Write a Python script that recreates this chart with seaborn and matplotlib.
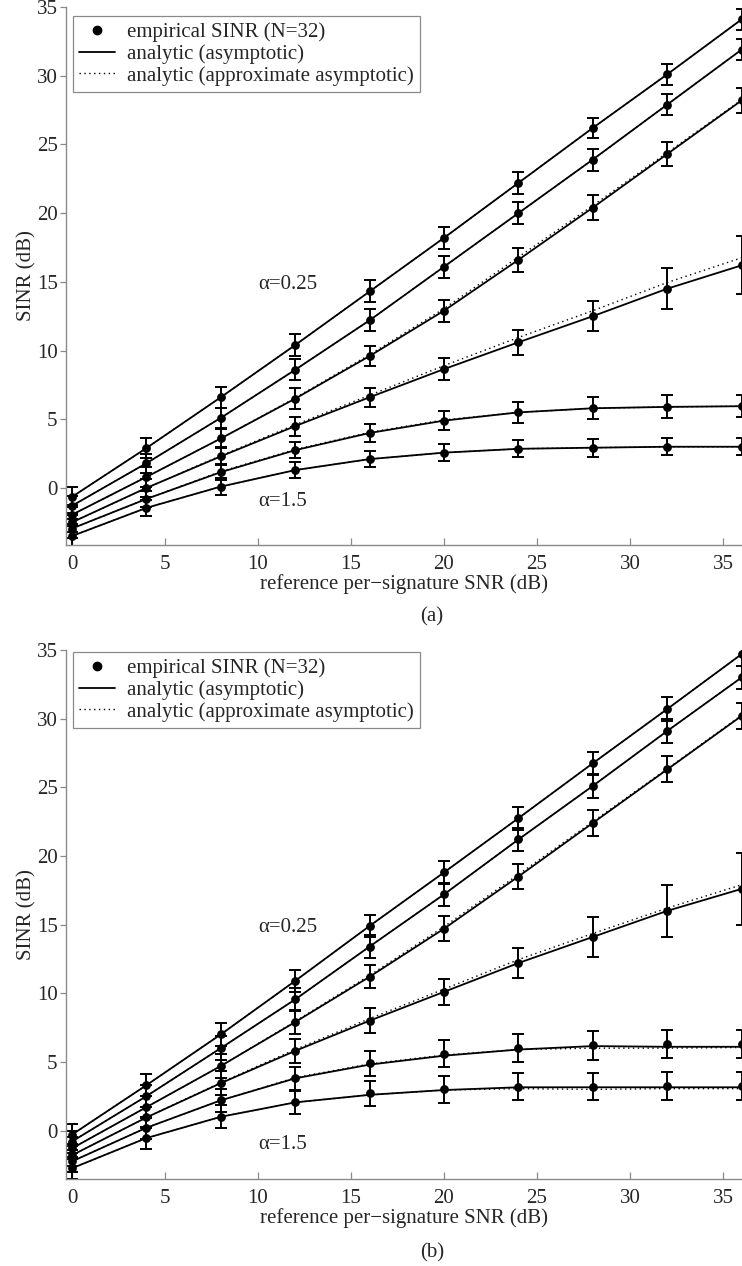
import numpy as np
import pandas as pd
import matplotlib
matplotlib.use("Agg")
import matplotlib.pyplot as plt
import seaborn as sns
from matplotlib.lines import Line2D

sns.set_theme(style="white")
plt.rcParams['font.family'] = ['Liberation Serif', 'DejaVu Serif']

# ---------------- data ----------------
snr = [0, 4, 8, 12, 16, 20, 24, 28, 32, 36]
alphas = [0.25, 0.5, 0.75, 1.0, 1.25, 1.5]

# panel (a): empirical SINR (dB)
emp_a_025 = [-0.65, 2.9, 6.6, 10.4, 14.3, 18.2, 22.2, 26.2, 30.1, 34.1]
emp_a_050 = [-1.3, 1.8, 5.1, 8.6, 12.2, 16.1, 20.0, 23.9, 27.9, 31.9]
emp_a_075 = [-1.95, 0.8, 3.6, 6.5, 9.6, 12.9, 16.6, 20.4, 24.3, 28.2]
emp_a_100 = [-2.5, 0.0, 2.3, 4.5, 6.6, 8.65, 10.6, 12.5, 14.5, 16.2]
emp_a_125 = [-2.95, -0.8, 1.15, 2.75, 4.0, 4.9, 5.5, 5.8, 5.9, 5.95]
emp_a_150 = [-3.5, -1.45, 0.1, 1.3, 2.1, 2.57, 2.85, 2.93, 3.0, 3.0]
# error half-widths (dB)
err_a_025 = [0.7, 0.7, 0.75, 0.8, 0.8, 0.8, 0.8, 0.75, 0.75, 0.75]
err_a_050 = [0.7, 0.7, 0.75, 0.75, 0.8, 0.8, 0.8, 0.8, 0.75, 0.75]
err_a_075 = [0.7, 0.7, 0.7, 0.75, 0.75, 0.8, 0.85, 0.9, 0.9, 0.9]
err_a_100 = [0.7, 0.65, 0.65, 0.7, 0.7, 0.8, 0.9, 1.1, 1.5, 2.1]
err_a_125 = [0.7, 0.6, 0.6, 0.6, 0.65, 0.7, 0.78, 0.8, 0.84, 0.8]
err_a_150 = [0.7, 0.6, 0.6, 0.6, 0.6, 0.62, 0.63, 0.65, 0.62, 0.63]
# analytic (asymptotic)
asy_a_025 = [-0.65, 2.9, 6.6, 10.4, 14.3, 18.2, 22.2, 26.2, 30.1, 34.1]
asy_a_050 = [-1.3, 1.8, 5.1, 8.6, 12.2, 16.1, 20.0, 23.9, 27.9, 31.9]
asy_a_075 = [-1.95, 0.8, 3.6, 6.5, 9.6, 12.9, 16.6, 20.4, 24.3, 28.2]
asy_a_100 = [-2.5, 0.0, 2.3, 4.5, 6.6, 8.65, 10.6, 12.5, 14.5, 16.2]
asy_a_125 = [-2.95, -0.8, 1.15, 2.75, 4.0, 4.9, 5.5, 5.8, 5.9, 5.95]
asy_a_150 = [-3.5, -1.45, 0.1, 1.3, 2.1, 2.57, 2.85, 2.93, 3.0, 3.0]
# analytic (approximate asymptotic)
apx_a_025 = [-0.65, 2.9, 6.6, 10.4, 14.3, 18.2, 22.2, 26.2, 30.1, 34.1]
apx_a_050 = [-1.3, 1.8, 5.1, 8.6, 12.2, 16.1, 20.0, 23.9, 27.9, 31.9]
apx_a_075 = [-1.95, 0.8, 3.6, 6.55, 9.7, 13.05, 16.8, 20.55, 24.4, 28.25]
apx_a_100 = [-2.5, 0.0, 2.35, 4.6, 6.75, 8.9, 10.95, 12.9, 14.95, 16.75]
apx_a_125 = [-2.95, -0.8, 1.2, 2.8, 4.05, 4.95, 5.5, 5.8, 5.9, 5.95]
apx_a_150 = [-3.5, -1.45, 0.1, 1.3, 2.1, 2.57, 2.85, 2.93, 3.0, 3.0]

# panel (b): empirical SINR (dB)
emp_b_025 = [-0.3, 3.3, 7.0, 10.9, 14.9, 18.8, 22.75, 26.75, 30.7, 34.7]
emp_b_050 = [-0.8, 2.5, 6.0, 9.55, 13.4, 17.2, 21.2, 25.1, 29.1, 33.0]
emp_b_075 = [-1.3, 1.7, 4.7, 7.9, 11.2, 14.7, 18.5, 22.4, 26.3, 30.2]
emp_b_100 = [-1.8, 0.95, 3.45, 5.8, 8.0, 10.1, 12.2, 14.1, 16.0, 17.6]
emp_b_125 = [-2.25, 0.2, 2.2, 3.8, 4.9, 5.6, 6.0, 6.2, 6.3, 6.3]
emp_b_150 = [-2.75, -0.55, 1.0, 2.05, 2.7, 3.0, 3.2, 3.2, 3.25, 3.25]
err_b_025 = [0.8, 0.8, 0.85, 0.8, 0.8, 0.85, 0.85, 0.85, 0.85, 0.85]
err_b_050 = [0.8, 0.8, 0.85, 0.85, 0.85, 0.85, 0.85, 0.85, 0.85, 0.85]
err_b_075 = [0.8, 0.8, 0.85, 0.85, 0.85, 0.9, 0.9, 0.95, 0.95, 0.95]
err_b_100 = [0.8, 0.8, 0.85, 0.85, 0.9, 0.97, 1.1, 1.45, 1.9, 2.6]
err_b_125 = [0.8, 0.8, 0.85, 0.85, 0.9, 0.97, 1.0, 1.03, 1.05, 1.05]
err_b_150 = [0.8, 0.8, 0.85, 0.85, 0.9, 0.98, 1.0, 1.0, 1.0, 1.0]
asy_b_025 = [-0.3, 3.3, 7.0, 10.9, 14.9, 18.8, 22.75, 26.75, 30.7, 34.7]
asy_b_050 = [-0.8, 2.5, 6.0, 9.55, 13.4, 17.2, 21.2, 25.1, 29.1, 33.0]
asy_b_075 = [-1.3, 1.7, 4.7, 7.9, 11.2, 14.7, 18.5, 22.4, 26.3, 30.2]
asy_b_100 = [-1.8, 0.95, 3.45, 5.8, 8.0, 10.1, 12.2, 14.1, 16.0, 17.6]
asy_b_125 = [-2.25, 0.2, 2.2, 3.8, 4.8, 5.45, 5.9, 6.15, 6.1, 6.1]
asy_b_150 = [-2.75, -0.55, 1.0, 2.05, 2.6, 2.95, 3.15, 3.15, 3.15, 3.15]
apx_b_025 = [-0.3, 3.3, 7.0, 10.9, 14.9, 18.8, 22.75, 26.75, 30.7, 34.7]
apx_b_050 = [-0.8, 2.5, 6.0, 9.55, 13.4, 17.2, 21.2, 25.1, 29.1, 33.0]
apx_b_075 = [-1.3, 1.7, 4.7, 7.95, 11.3, 14.85, 18.65, 22.5, 26.35, 30.25]
apx_b_100 = [-1.8, 0.95, 3.5, 5.9, 8.15, 10.3, 12.45, 14.35, 16.2, 17.9]
apx_b_125 = [-2.25, 0.2, 2.2, 3.85, 4.85, 5.5, 5.9, 6.0, 6.0, 6.05]
apx_b_150 = [-2.75, -0.55, 1.0, 2.05, 2.6, 2.95, 3.05, 3.0, 3.05, 3.05]

panels = {
    "a": dict(emp=[emp_a_025, emp_a_050, emp_a_075, emp_a_100, emp_a_125, emp_a_150],
              err=[err_a_025, err_a_050, err_a_075, err_a_100, err_a_125, err_a_150],
              asy=[asy_a_025, asy_a_050, asy_a_075, asy_a_100, asy_a_125, asy_a_150],
              apx=[apx_a_025, apx_a_050, apx_a_075, apx_a_100, apx_a_125, apx_a_150]),
    "b": dict(emp=[emp_b_025, emp_b_050, emp_b_075, emp_b_100, emp_b_125, emp_b_150],
              err=[err_b_025, err_b_050, err_b_075, err_b_100, err_b_125, err_b_150],
              asy=[asy_b_025, asy_b_050, asy_b_075, asy_b_100, asy_b_125, asy_b_150],
              apx=[apx_b_025, apx_b_050, apx_b_075, apx_b_100, apx_b_125, apx_b_150]),
}

legend_labels = ["empirical SINR (N=32)", "analytic (asymptotic)",
                 "analytic (approximate asymptotic)"]
xlabel = "reference per\u2212signature SNR (dB)"
ylabel = "SINR (dB)"
alpha_top_label = "\u03b1=0.25"
alpha_bot_label = "\u03b1=1.5"

# ---------------- figure ----------------
W, H = 742, 1266
fig = plt.figure(figsize=(W / 100, H / 100), dpi=100)

def fx(px):
    return px / W

def fy(py):
    return 1 - py / H

axes_px = {"a": (66, 7, 742, 545, -4.15), "b": (66, 650, 742, 1179, -3.53)}
caption_py = {"a": 617, "b": 1253}
FS = 15
spine_col = "#8a8a8a"

for key, (l, t, r, b, ymin) in axes_px.items():
    ax = fig.add_axes([fx(l), fy(b), fx(r) - fx(l), (b - t) / H])
    d = panels[key]
    rows = []
    for a, e, s, p in zip(alphas, d["emp"], d["asy"], d["apx"]):
        for xv, ev, sv, pv in zip(snr, e, s, p):
            rows.append(dict(snr=xv, alpha=a, emp=ev, asy=sv, apx=pv))
    df = pd.DataFrame(rows)

    sns.lineplot(data=df, x="snr", y="apx", units="alpha", estimator=None,
                 color="black", linestyle=(0, (1, 2.5)), linewidth=1.0,
                 ax=ax, legend=False)
    sns.lineplot(data=df, x="snr", y="asy", units="alpha", estimator=None,
                 color="black", linewidth=1.3, ax=ax, legend=False)
    for a, e, er in zip(alphas, d["emp"], d["err"]):
        ax.errorbar(snr, e, yerr=er, fmt="none", ecolor="black",
                    elinewidth=1.4, capsize=4.2, capthick=1.4)
    sns.scatterplot(data=df, x="snr", y="emp", color="black", s=40,
                    edgecolor="black", linewidth=0, ax=ax, legend=False,
                    zorder=5)

    ax.set_xlim(-0.32, 36.02)
    ax.set_ylim(ymin, 35)
    ax.set_xticks([0, 5, 10, 15, 20, 25, 30, 35])
    ax.set_yticks([0, 5, 10, 15, 20, 25, 30, 35])
    ax.tick_params(axis="x", direction="in", length=5, width=0.9,
                   color=spine_col, labelsize=FS, pad=7)
    ax.tick_params(axis="y", direction="out", length=4, width=0.9,
                   color=spine_col, labelsize=FS, pad=2)
    ax.tick_params(left=True, bottom=True)
    for side in ("top", "right"):
        ax.spines[side].set_visible(False)
    for side in ("left", "bottom"):
        ax.spines[side].set_color(spine_col)
        ax.spines[side].set_linewidth(1.0)
    ax.set_xlabel(xlabel, fontsize=FS, labelpad=0)
    ax.set_ylabel(ylabel, fontsize=FS, labelpad=0)
    ax.grid(False)

    ax.text(10.0, 14.8, alpha_top_label, fontsize=FS, ha="left", va="center")
    ax.text(10.0, -1.0, alpha_bot_label, fontsize=FS, ha="left", va="center")

    handles = [
        Line2D([], [], marker="o", linestyle="none", color="black", markersize=6),
        Line2D([], [], color="black", linewidth=1.3),
        Line2D([], [], color="black", linewidth=1.0, linestyle=(0, (1, 2.5))),
    ]
    leg = ax.legend(handles, legend_labels, loc="upper left",
                    bbox_to_anchor=((73 - l) / (r - l), (b - (t + 9 if key == "a" else t + 2)) / (b - t)),
                    fontsize=FS, frameon=True, fancybox=False, framealpha=1,
                    edgecolor=spine_col, handlelength=1.7, handletextpad=0.6,
                    labelspacing=0.1, borderpad=0.3, borderaxespad=0)
    leg.get_frame().set_linewidth(0.9)

    fig.text(fx(432), fy(caption_py[key]), f"({key})", fontsize=FS,
             ha="center", va="center")

fig.savefig("out.png", dpi=100)
